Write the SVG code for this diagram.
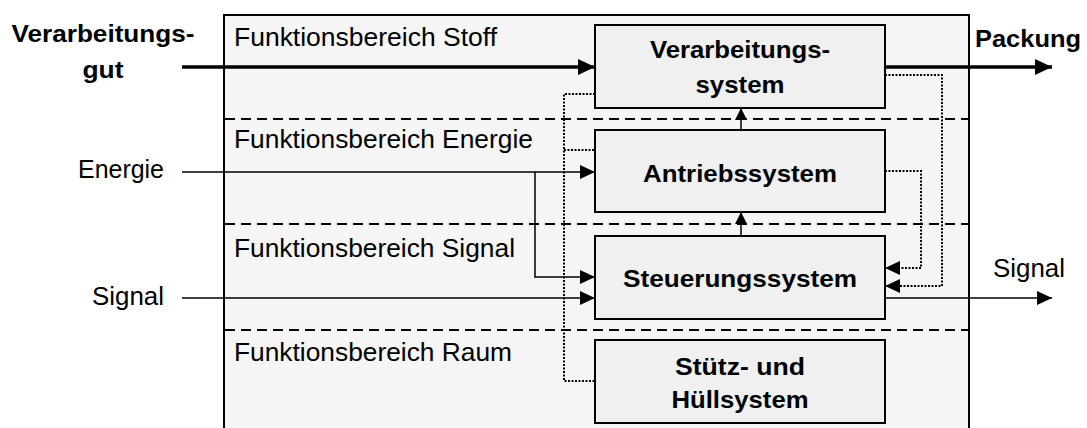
<svg xmlns="http://www.w3.org/2000/svg" width="1087" height="428" viewBox="0 0 1087 428">
<defs>
<marker id="big" markerUnits="userSpaceOnUse" markerWidth="18" markerHeight="16" refX="17" refY="8" orient="auto"><path d="M0,0 L17,8 L0,16 Z" fill="#000"/></marker>
<marker id="mid" markerUnits="userSpaceOnUse" markerWidth="16" markerHeight="14" refX="15" refY="7" orient="auto"><path d="M0,0 L15,7 L0,14 Z" fill="#000"/></marker>
<marker id="small" markerUnits="userSpaceOnUse" markerWidth="14" markerHeight="12" refX="12" refY="6" orient="auto"><path d="M0,0 L12,6 L0,12 Z" fill="#000"/></marker>
</defs>
<style>
.t{font-family:"Liberation Sans",Arial,sans-serif;font-size:25px;fill:#000}
.b{font-weight:bold;font-size:24px}
.m{text-anchor:middle}
.box{fill:#eff0ef;stroke:#000;stroke-width:2}
.dash{stroke:#000;stroke-width:2;stroke-dasharray:10,6;fill:none}
.dot{stroke:#000;stroke-width:2;stroke-dasharray:2,1.5;fill:none}
.ln{stroke:#000;stroke-width:1.5;fill:none}
.thick{stroke:#000;stroke-width:3.5;fill:none}
</style>
<rect x="224" y="15" width="745" height="430" fill="#f4f5f4" stroke="#000" stroke-width="2"/>
<g id="areas">
<line class="dash" x1="225" y1="119" x2="968" y2="119"/>
<line class="dash" x1="225" y1="224" x2="968" y2="224"/>
<line class="dash" x1="225" y1="330" x2="968" y2="330"/>
<text class="t" x="234" y="46" textLength="263" lengthAdjust="spacingAndGlyphs">Funktionsbereich Stoff</text>
<text class="t" x="234" y="148" textLength="299" lengthAdjust="spacingAndGlyphs">Funktionsbereich Energie</text>
<text class="t" x="234" y="257" textLength="281" lengthAdjust="spacingAndGlyphs">Funktionsbereich Signal</text>
<text class="t" x="234" y="361" textLength="278" lengthAdjust="spacingAndGlyphs">Funktionsbereich Raum</text>
</g>
<g id="connectors">
<path class="thick" d="M182,67 H595" marker-end="url(#big)"/>
<path class="thick" d="M885,67 H1052" marker-end="url(#big)"/>
<path class="ln" d="M182,172 H595" marker-end="url(#mid)"/>
<path class="ln" d="M535,172 V277 H595" marker-end="url(#mid)"/>
<path class="ln" d="M182,298 H595" marker-end="url(#mid)"/>
<path class="ln" d="M885,298 H1052" marker-end="url(#mid)"/>
<path class="ln" d="M741,130 V108" marker-end="url(#small)"/>
<path class="ln" d="M741,236 V212" marker-end="url(#small)"/>
<path class="dot" d="M595,94 H564 V381 H595"/>
<path class="dot" d="M564,150 H595"/>
<path class="dot" d="M885,75 H942 V286 H885" marker-end="url(#mid)"/>
<path class="dot" d="M885,171 H921 V268 H885" marker-end="url(#mid)"/>
</g>
<g id="ext-labels">
<text class="t b m" x="103" y="42" textLength="183" lengthAdjust="spacingAndGlyphs">Verarbeitungs-</text>
<text class="t b m" x="103" y="78" textLength="41" lengthAdjust="spacingAndGlyphs">gut</text>
<text class="t" x="78" y="178" textLength="86" lengthAdjust="spacingAndGlyphs">Energie</text>
<text class="t" x="92" y="305" textLength="72" lengthAdjust="spacingAndGlyphs">Signal</text>
<text class="t b" x="975" y="47" textLength="106" lengthAdjust="spacingAndGlyphs">Packung</text>
<text class="t" x="993" y="277" textLength="72" lengthAdjust="spacingAndGlyphs">Signal</text>
</g>
<g id="verarbeitungssystem">
<rect class="box" x="595" y="25" width="290" height="83"/>
<text class="t b m" x="740" y="58" textLength="180" lengthAdjust="spacingAndGlyphs">Verarbeitungs-</text>
<text class="t b m" x="740" y="93" textLength="89" lengthAdjust="spacingAndGlyphs">system</text>
</g>
<g id="antriebssystem">
<rect class="box" x="595" y="130" width="290" height="82"/>
<text class="t b m" x="740" y="182" textLength="194" lengthAdjust="spacingAndGlyphs">Antriebssystem</text>
</g>
<g id="steuerungssystem">
<rect class="box" x="595" y="236" width="290" height="83"/>
<text class="t b m" x="740" y="287" textLength="234" lengthAdjust="spacingAndGlyphs">Steuerungssystem</text>
</g>
<g id="stuetzsystem">
<rect class="box" x="595" y="340" width="290" height="83"/>
<text class="t b m" x="740" y="375" textLength="130" lengthAdjust="spacingAndGlyphs">Stütz- und</text>
<text class="t b m" x="740" y="408" textLength="137" lengthAdjust="spacingAndGlyphs">Hüllsystem</text>
</g>
</svg>
